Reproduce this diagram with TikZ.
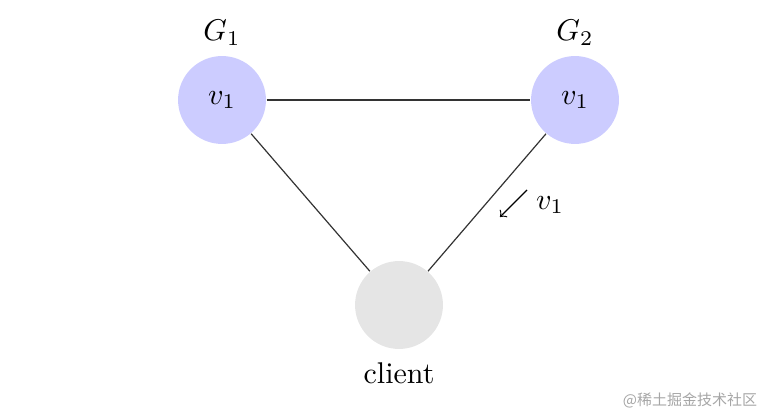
\documentclass[tikz,border=0pt]{standalone}
\usepackage{fontspec}
\newfontfamily\cjk{Noto Sans CJK SC}
\usetikzlibrary{arrows.meta}
\begin{document}
\begin{tikzpicture}[x=0.3333pt,y=-0.3333pt,
  srv/.style={circle,fill=blue!20,minimum size=29.3pt,inner sep=0pt},
  cli/.style={circle,fill=gray!20,minimum size=29.3pt,inner sep=0pt},
  edge/.style={draw=black!80,line width=0.4pt},
  wm/.style={text=black!35,font=\cjk\fontsize{5}{6}\selectfont}]
\useasboundingbox (0,0) rectangle (766,415);
\node[srv] (g1) at (222,100) {$v_1$};
\node[srv] (g2) at (575,100) {$v_1$};
\node[cli] (c) at (399,305) {};
\node (l1) at (222,33) {$G_1$};
\node (l2) at (575,33) {$G_2$};
\node (lc) at (399,373) {client};
\draw[edge] (g1) -- (g2);
\draw[edge] (g1) -- (c);
\draw[edge] (g2) -- (c);
\coordinate (a1) at (527,190);
\coordinate (a2) at (500,217);
\draw[-to] (a1) -- (a2);
\node (av) at (550,205) {$v_1$};
\node[wm] (w) at (690,400) {@稀土掘金技术社区};
\end{tikzpicture}
\end{document}
